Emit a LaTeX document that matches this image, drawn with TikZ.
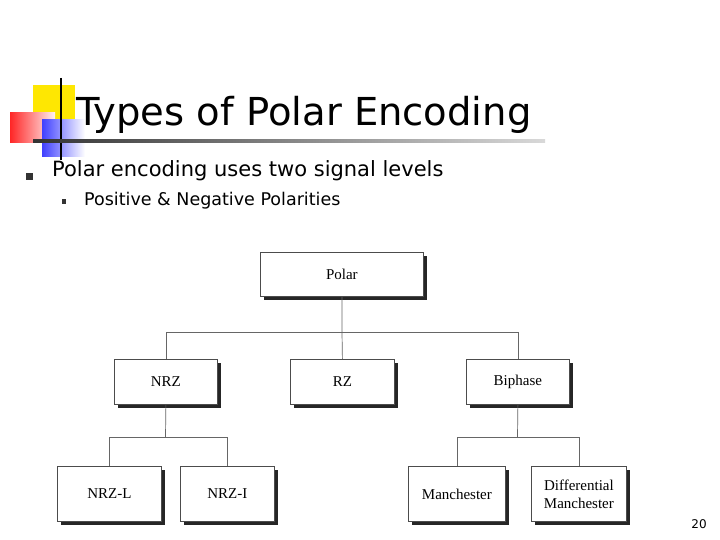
\documentclass[tikz,border=0pt]{standalone}
\usepackage{fontspec}
\setmainfont{Liberation Serif}
\newfontfamily\slidefont{DejaVu Sans}
\usetikzlibrary{shadings}
\begin{document}
\begin{tikzpicture}[x=1pt,y=-1pt,
  box/.style={draw=black!70,line width=0.8pt,fill=white,align=center,font=\fontsize{15}{16}\selectfont,inner sep=0pt},
  conn/.style={draw=black!60,line width=0.7pt}]
\useasboundingbox (0,0) rectangle (720,540);
\fill[white] (0,0) rectangle (720,540);
% logo
\fill[yellow!90!orange] (33,85) rectangle (75,120);
\shade[left color=red!85, right color=red!5] (10,113) rectangle (55,143);
\shade[left color=blue!75, right color=white] (42,120) rectangle (85,157);
\draw[black,line width=1.3pt] (61,78) -- (61,160);
\shade[left color=black!80,right color=black!15] (33,140) rectangle (545,142.5);
% text
\node[anchor=base west,inner sep=0pt,font=\slidefont\fontsize{38.5}{40}\selectfont] (title) at (76,126) {Types of Polar Encoding};
\fill[black!80] (26,173) rectangle (33,180);
\node[anchor=base west,inner sep=0pt,font=\slidefont\fontsize{21}{24}\selectfont] (b1) at (52,177) {Polar encoding uses two signal levels};
\fill[black!80] (62,199) rectangle (66,204);
\node[anchor=base west,inner sep=0pt,font=\slidefont\fontsize{17.5}{19}\selectfont] (b2) at (84,206) {Positive \& Negative Polarities};
\node[anchor=base,inner sep=0pt,font=\slidefont\fontsize{12}{13}\selectfont] (pg) at (699,528) {20};
% boxes with shadows
\newcommand{\shbox}[6]{%
 \fill[black!85] (#1+4,#2+4) rectangle (#3+4,#4+4);
 \node[box,minimum width=#3-#1,minimum height=#4-#2,anchor=north west] (#5) at (#1,#2) {#6};}
\shbox{260}{252}{423}{296}{polar}{Polar}
\shbox{114}{359}{217}{404}{nrz}{NRZ}
\shbox{290}{359}{394}{404}{rz}{RZ}
\shbox{466}{359}{569}{404}{bi}{Biphase}
\shbox{57}{466}{161}{521}{nrzl}{NRZ-L}
\shbox{180}{466}{274}{521}{nrzi}{NRZ-I}
\shbox{408}{466}{505}{521}{man}{Manchester}
\shbox{531}{466}{626}{521}{dman}{Differential\\[2pt]Manchester}
% connectors
\coordinate (j1) at (342,332);
\draw[conn] (polar.south) -- (j1);
\draw[conn] (nrz.north) |- (j1);
\draw[conn] (bi.north) |- (j1);
\draw[conn] (rz.north) -- (j1);
\coordinate (j2) at (165.5,437);
\draw[conn] (nrz.south) -- (j2);
\draw[conn] (nrzl.north) |- (j2);
\draw[conn] (nrzi.north) |- (j2);
\coordinate (j3) at (517.5,437);
\draw[conn] (bi.south) -- (j3);
\draw[conn] (man.north) |- (j3);
\draw[conn] (dman.north) |- (j3);
\end{tikzpicture}
\end{document}
